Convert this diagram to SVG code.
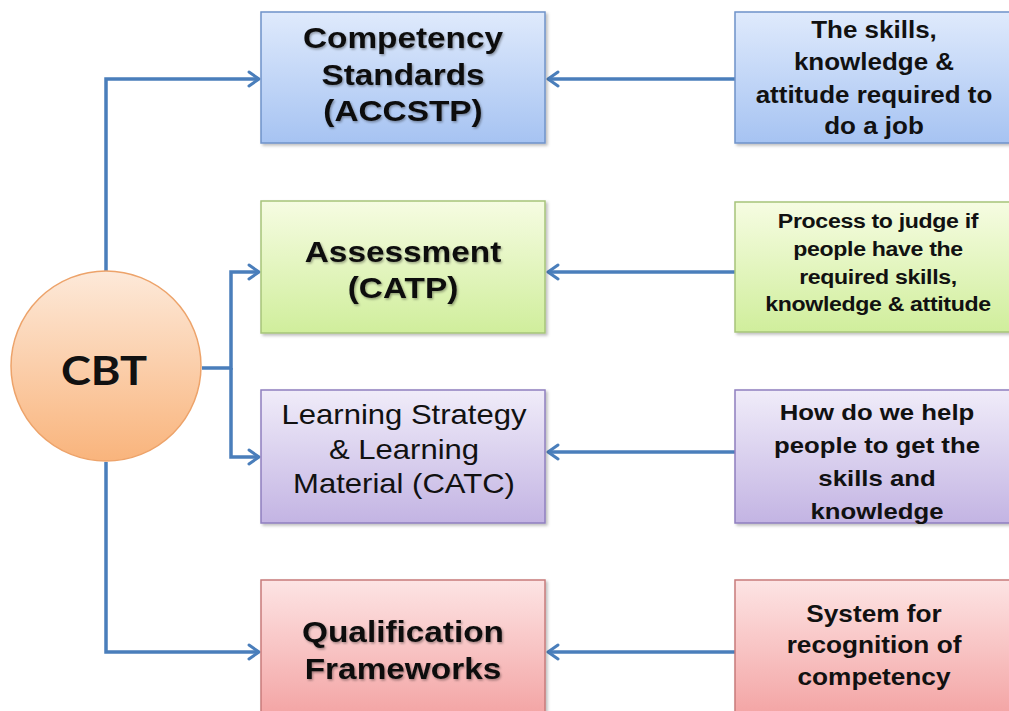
<svg xmlns="http://www.w3.org/2000/svg" width="1009" height="711" viewBox="0 0 1009 711">
<defs>
<linearGradient id="gBlue" x1="0" y1="0" x2="0" y2="1"><stop offset="0" stop-color="#dfeafc"/><stop offset="1" stop-color="#a6c3f2"/></linearGradient>
<linearGradient id="gGreen" x1="0" y1="0" x2="0" y2="1"><stop offset="0" stop-color="#f6fce2"/><stop offset="1" stop-color="#d0ee9c"/></linearGradient>
<linearGradient id="gPurple" x1="0" y1="0" x2="0" y2="1"><stop offset="0" stop-color="#f0ecf9"/><stop offset="1" stop-color="#c3b4e3"/></linearGradient>
<linearGradient id="gRed" x1="0" y1="0" x2="0" y2="1"><stop offset="0" stop-color="#fde4e4"/><stop offset="1" stop-color="#f3a2a2"/></linearGradient>
<linearGradient id="gOrange" x1="0" y1="0" x2="0" y2="1"><stop offset="0" stop-color="#fde9d9"/><stop offset="1" stop-color="#f9b47c"/></linearGradient>
<filter id="shadow" x="-10%" y="-10%" width="130%" height="130%"><feDropShadow dx="2" dy="2" stdDeviation="1.5" flood-color="#000" flood-opacity="0.25"/></filter>
<filter id="tshadow" x="-10%" y="-20%" width="130%" height="150%"><feDropShadow dx="1" dy="1.5" stdDeviation="1" flood-color="#000" flood-opacity="0.35"/></filter>
<marker id="arr" markerUnits="userSpaceOnUse" viewBox="0 0 14 18" refX="12" refY="9" markerWidth="14" markerHeight="18" orient="auto"><path d="M2,2 L12,9 L2,16" fill="none" stroke="#4a7ebb" stroke-width="3" stroke-linecap="round" stroke-linejoin="round"/></marker>
<style>
.box{stroke-width:1.5;filter:url(#shadow)}
.b1{fill:url(#gBlue);stroke:#6f93c9}
.b2{fill:url(#gGreen);stroke:#a6c47a}
.b3{fill:url(#gPurple);stroke:#8f7fbf}
.b4{fill:url(#gRed);stroke:#c77b7b}
.conn{fill:none;stroke:#4a7ebb;stroke-width:3.5;stroke-linejoin:miter}
.lt{font-family:"Liberation Sans",Arial,sans-serif;font-weight:bold;font-size:29px;fill:#111;text-anchor:middle;filter:url(#tshadow)}
.lr{font-family:"Liberation Sans",Arial,sans-serif;font-weight:normal;font-size:27px;fill:#111;text-anchor:middle}
.rt{font-family:"Liberation Sans",Arial,sans-serif;font-weight:bold;font-size:23px;fill:#111;text-anchor:middle}
.rg{font-family:"Liberation Sans",Arial,sans-serif;font-weight:bold;font-size:21px;fill:#111;text-anchor:middle;letter-spacing:-0.3px}
.cbt{font-family:Lato,"Liberation Sans",sans-serif;font-weight:bold;font-size:41px;fill:#111;text-anchor:middle}
</style>
</defs>
<rect width="1009" height="711" fill="#fff"/>
<g id="connectors">
<path class="conn" d="M106,272 V79 H259" marker-end="url(#arr)"/>
<path class="conn" d="M202,368 H231 V272 H259" marker-end="url(#arr)"/>
<path class="conn" d="M231,368 V457 H259" marker-end="url(#arr)"/>
<path class="conn" d="M106,462 V652 H259" marker-end="url(#arr)"/>
<path class="conn" d="M736,79 H548" marker-end="url(#arr)"/>
<path class="conn" d="M736,272 H548" marker-end="url(#arr)"/>
<path class="conn" d="M736,452 H548" marker-end="url(#arr)"/>
<path class="conn" d="M736,652 H548" marker-end="url(#arr)"/>
</g>
<g id="cbt">
<circle cx="106" cy="366" r="95" fill="url(#gOrange)" stroke="#eda36a" stroke-width="1.5"/>
<text class="cbt" transform="translate(104,0) scale(1.1,1)" x="0" y="385">CBT</text>
</g>
<g id="competency-standards">
<rect class="box b1" x="261" y="12" width="284" height="131"/>
<g class="lt" transform="translate(403,0) scale(1.15,1)">
<text x="0" y="48">Competency</text>
<text x="0" y="85">Standards</text>
<text x="0" y="121">(ACCSTP)</text>
</g>
</g>
<g id="assessment">
<rect class="box b2" x="261" y="201" width="284" height="132"/>
<g class="lt" transform="translate(403,0) scale(1.15,1)">
<text x="0" y="262">Assessment</text>
<text x="0" y="298">(CATP)</text>
</g>
</g>
<g id="learning-strategy">
<rect class="box b3" x="261" y="390" width="284" height="133"/>
<g class="lr" transform="translate(404,0) scale(1.15,1)">
<text x="0" y="424">Learning Strategy</text>
<text x="0" y="459">&amp; Learning</text>
<text x="0" y="493">Material (CATC)</text>
</g>
</g>
<g id="qualification-frameworks">
<rect class="box b4" x="261" y="580" width="284" height="140"/>
<g class="lt" transform="translate(403,0) scale(1.15,1)">
<text x="0" y="642">Qualification</text>
<text x="0" y="679">Frameworks</text>
</g>
</g>
<g id="desc-skills">
<rect class="box b1" x="735" y="12" width="290" height="131"/>
<g class="rt" transform="translate(874,0) scale(1.13,1)">
<text x="0" y="38">The skills,</text>
<text x="0" y="70">knowledge &amp;</text>
<text x="0" y="103">attitude required to</text>
<text x="0" y="134">do a job</text>
</g>
</g>
<g id="desc-process">
<rect class="box b2" x="735" y="202" width="290" height="130"/>
<g class="rg" transform="translate(878,0) scale(1.1,1)">
<text x="0" y="228">Process to judge if</text>
<text x="0" y="256">people have the</text>
<text x="0" y="284">required skills,</text>
<text x="0" y="311">knowledge &amp; attitude</text>
</g>
</g>
<g id="desc-help">
<rect class="box b3" x="735" y="390" width="290" height="133"/>
<g class="rt" transform="translate(877,0) scale(1.12,1)">
<text x="0" y="420">How do we help</text>
<text x="0" y="453">people to get the</text>
<text x="0" y="486">skills and</text>
<text x="0" y="519">knowledge</text>
</g>
</g>
<g id="desc-system">
<rect class="box b4" x="735" y="580" width="290" height="140"/>
<g class="rt" transform="translate(874,0) scale(1.14,1)">
<text x="0" y="622">System for</text>
<text x="0" y="653">recognition of</text>
<text x="0" y="685">competency</text>
</g>
</g>
</svg>
